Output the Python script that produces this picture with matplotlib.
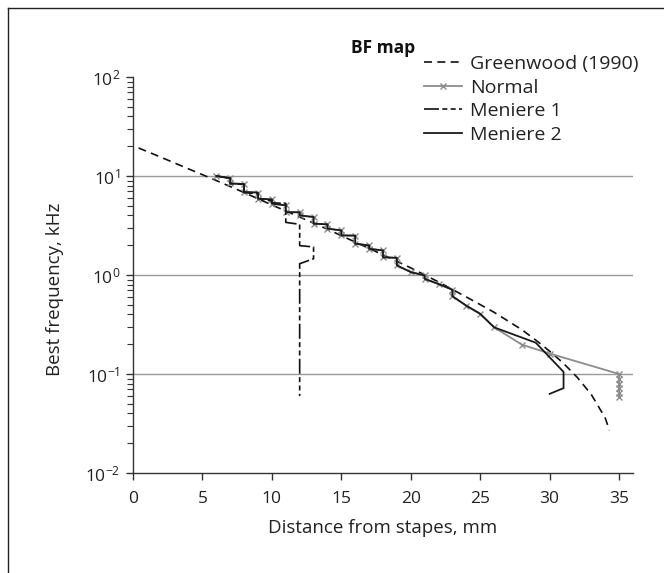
import matplotlib
matplotlib.use("Agg")
import matplotlib.pyplot as plt
from matplotlib.lines import Line2D

plt.rcParams['font.family'] = ['Open Sans', 'DejaVu Sans']
plt.rcParams['mathtext.fontset'] = 'custom'
plt.rcParams['mathtext.rm'] = 'Open Sans'
plt.rcParams['mathtext.it'] = 'Open Sans:italic'
plt.rcParams['mathtext.bf'] = 'Open Sans:bold'
plt.rcParams['axes.unicode_minus'] = True

# ---------------- data ----------------
greenwood_d = [0.4, 2, 4, 6, 8, 10, 12, 14, 16, 18, 20, 22, 24, 26, 28, 29, 30, 31, 32, 33, 34, 34.3]
greenwood_f = [19.2, 15.5, 11.8, 9.0, 6.8, 5.1, 3.85, 2.9, 2.15, 1.6, 1.18, 0.85, 0.6, 0.42, 0.28,
               0.22, 0.17, 0.128, 0.092, 0.062, 0.036, 0.027]

normal_d = [6, 7, 7, 8, 8, 9, 9, 10, 10, 11, 11, 12, 12, 13, 13, 14, 14, 15, 15, 16, 16, 17, 17,
            18, 18, 19, 19, 20, 21, 21, 22, 23, 23, 24, 25, 26, 28, 30, 35, 35, 35, 35, 35, 35]
normal_f = [10.0, 9.5, 8.4, 8.3, 6.9, 6.8, 5.9, 5.8, 5.26, 5.05, 4.32, 4.3, 4.0, 3.85, 3.3, 3.25, 2.94,
            2.82, 2.51, 2.5, 2.07, 1.99, 1.84, 1.77, 1.51, 1.49, 1.25, 1.07, 0.99, 0.915, 0.81, 0.71,
            0.61, 0.49, 0.405, 0.296, 0.198, 0.161, 0.1, 0.09, 0.08, 0.072, 0.065, 0.058]

meniere1_d = [6, 7, 7, 8, 8, 9, 9, 10, 10, 11, 11, 11, 12, 12, 13, 13, 12, 12]
meniere1_f = [10.0, 9.5, 8.4, 8.2, 6.8, 6.6, 5.9, 5.6, 5.35, 5.3, 4.32, 3.4, 3.25, 1.98, 1.92, 1.46, 1.30, 0.06]

meniere2_d = [6, 7, 7, 8, 8, 9, 9, 10, 10, 11, 11, 12, 12, 13, 13, 14, 14, 15, 15, 16, 16, 17, 17,
              18, 18, 19, 19, 20, 21, 21, 22, 23, 23, 24, 25, 26, 29, 31, 31, 30]
meniere2_f = [10.0, 9.5, 8.4, 8.3, 6.9, 6.8, 5.9, 5.8, 5.26, 5.05, 4.32, 4.3, 4.0, 3.85, 3.3, 3.25, 2.94,
              2.82, 2.51, 2.5, 2.07, 1.99, 1.84, 1.77, 1.51, 1.49, 1.25, 1.07, 0.99, 0.915, 0.81, 0.71,
              0.61, 0.49, 0.405, 0.296, 0.207, 0.105, 0.072, 0.063]

labels = ["Greenwood (1990)", "Normal", "Meniere 1", "Meniere 2"]
x_ticks = [0, 5, 10, 15, 20, 25, 30, 35]

# ---------------- figure ----------------
W, H = 664, 573
fig = plt.figure(figsize=(W / 100, H / 100), dpi=100)
ax = fig.add_axes([133 / W, 1 - 473 / H, 500 / W, (473 - 77) / H])

ax.set_yscale('log')
ax.set_xlim(0, 36)
ax.set_ylim(1e-2, 1e2)

for yv in [10, 1, 0.1]:
    ax.axhline(yv, color='#9a9a9a', lw=1.0, zorder=1)

g, = ax.plot(greenwood_d, greenwood_f, color='#111111', lw=1.2, dashes=(4.8, 3.2), zorder=3)
n, = ax.plot(normal_d, normal_f, color='#8c8c8c', lw=1.3, marker='x', ms=5, mew=1.0, zorder=4)
m1, = ax.plot(meniere1_d, meniere1_f, color='#111111', lw=1.2, dashes=(9, 2, 3, 2, 3, 2), zorder=5)
m2, = ax.plot(meniere2_d, meniere2_f, color='#1a1a1a', lw=1.3, zorder=6)

ax.spines['top'].set_visible(False)
ax.spines['right'].set_visible(False)
for s in ['left', 'bottom']:
    ax.spines[s].set_color('#333333')
    ax.spines[s].set_linewidth(1.0)

ax.set_xticks(x_ticks)
ax.tick_params(axis='both', which='major', direction='out', length=5, width=1, color='#333333',
               labelsize=12.5, labelcolor='#222222', pad=4)
ax.tick_params(axis='x', which='major', pad=8)
ax.tick_params(axis='y', which='minor', direction='out', length=4, width=0.8, color='#333333')

fig.text(383 / W, 1 - 53 / H, "BF map", ha='center', va='baseline', fontsize=12.5,
         fontweight='bold', color='#111111')
fig.text(55 / W, 1 - 289 / H, "Best frequency, kHz", rotation=90, ha='center', va='center',
         fontsize=13.5, color='#222222')
fig.text(383 / W, 1 - 528 / H, "Distance from stapes, mm", ha='center', va='center',
         fontsize=13.5, color='#222222')

leg = fig.legend([g, n, m1, m2], labels, loc='upper left',
                 bbox_to_anchor=(424 / W, 1 - 55 / H), frameon=False, fontsize=14,
                 handlelength=1.95, handletextpad=0.4, labelspacing=0.29, borderpad=0,
                 borderaxespad=0)
for t in leg.get_texts():
    t.set_color('#222222')

# outer frame (left and top edges visible in reference)
fig.add_artist(Line2D([8 / W, 8 / W], [0, 1 - 8 / H], color='#222222', lw=1.0))
fig.add_artist(Line2D([8 / W, 1], [1 - 8 / H, 1 - 8 / H], color='#222222', lw=1.0))

fig.savefig("out.png", dpi=100)
